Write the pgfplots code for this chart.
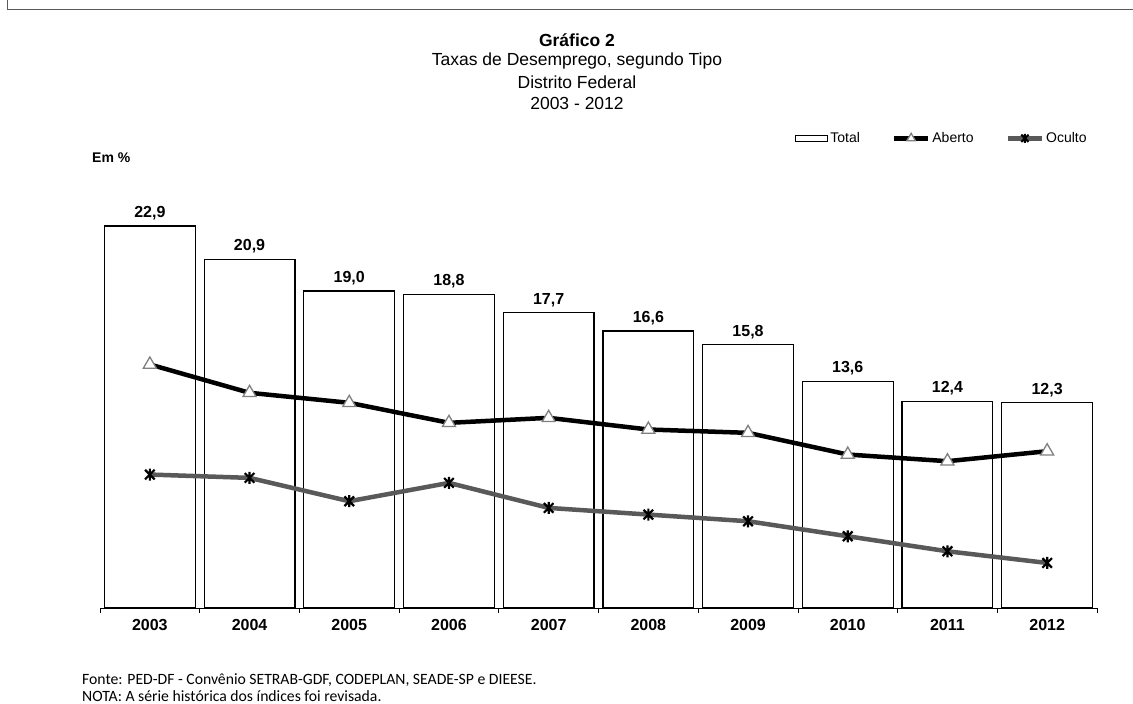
\documentclass[border=0pt]{standalone}
\usepackage{pgfplots}
\usepackage{pgfplotstable}
\pgfplotsset{compat=1.18}
\usepackage{fontspec}
\setmainfont{Liberation Sans}
\newfontfamily\calibri{Carlito}

\pgfplotstableread{
x total aberto oculto
0 22.9 14.6 8.0
1 20.9 12.9 7.8
2 19.0 12.3 6.4
3 18.8 11.1 7.5
4 17.7 11.4 6.0
5 16.6 10.7 5.6
6 15.8 10.5 5.2
7 13.6 9.2 4.3
8 12.4 8.8 3.4
9 12.3 9.4 2.7
}\dados

\definecolor{ocgray}{RGB}{89,89,89}
\definecolor{mkgray}{RGB}{128,128,128}

% Excel-style star: an X with a vertical stroke
\pgfdeclareplotmark{xstar}{%
  \pgfpathmoveto{\pgfqpoint{0pt}{\pgfplotmarksize}}%
  \pgfpathlineto{\pgfqpoint{0pt}{-\pgfplotmarksize}}%
  \pgfpathmoveto{\pgfqpoint{-.8\pgfplotmarksize}{.8\pgfplotmarksize}}%
  \pgfpathlineto{\pgfqpoint{.8\pgfplotmarksize}{-.8\pgfplotmarksize}}%
  \pgfpathmoveto{\pgfqpoint{-.8\pgfplotmarksize}{-.8\pgfplotmarksize}}%
  \pgfpathlineto{\pgfqpoint{.8\pgfplotmarksize}{.8\pgfplotmarksize}}%
  \pgfusepathqstroke}

\begin{document}
\begin{tikzpicture}[x=1pt,y=1pt]
\path[use as bounding box] (0,0) rectangle (1133,704);
\draw[gray!70!black, line width=1.5pt] (7.5,704) -- (7.5,694.5) -- (1133,694.5);

\node[font=\fontsize{17.5}{17.5}\selectfont\bfseries] at (577,664) {Gráfico 2};
\node[font=\fontsize{17.5}{17.5}\selectfont] at (577,643) {Taxas de Desemprego, segundo Tipo};
\node[font=\fontsize{17.5}{17.5}\selectfont] at (577,622) {Distrito Federal};
\node[font=\fontsize{17.5}{17.5}\selectfont] at (577,601) {2003 - 2012};

\node[font=\fontsize{14}{14}\selectfont\bfseries, anchor=west, inner sep=0] at (92,546) {Em \%};

\node[font=\calibri\fontsize{15.7}{15.7}\selectfont, anchor=west, inner sep=0] at (82,24) {Fonte: PED-DF - Convênio SETRAB-GDF, CODEPLAN, SEADE-SP e DIEESE.};
\node[font=\calibri\fontsize{15.7}{15.7}\selectfont, anchor=west, inner sep=0] at (82,8) {NOTA: A série histórica dos índices foi revisada.};

\begin{axis}[
  at={(149.85pt,96pt)}, anchor=origin,
  scale only axis, width=997pt, height=433.7pt,
  xmin=-0.5, xmax=9.5, ymin=0, ymax=26,
  axis y line=none, axis x line=bottom,
  axis line style={-, draw=black, line width=0.8pt},
  xtick={0,...,9},
  xticklabels={2003,2004,2005,2006,2007,2008,2009,2010,2011,2012},
  major tick length=0pt,
  minor xtick={-0.5,0.5,...,9.5},
  minor tick length=5pt,
  tick align=outside,
  minor tick style={draw=black, line width=0.8pt},
  x tick label style={font=\fontsize{16}{16}\selectfont\bfseries, yshift=-8pt},
  /pgf/number format/assume math mode=true,
  legend columns=3,
  legend style={at={(0.697,1.083)}, anchor=west, draw=none, fill=none,
    inner sep=0pt, font=\fontsize{14}{14}\selectfont,
    /tikz/every even column/.append style={column sep=30pt}},
  legend cell align=left,
  clip=false,
]
\addplot[ybar, bar width=0.91, draw=black, fill=white, line width=1.2pt,
  nodes near coords={\pgfmathprintnumber[fixed,fixed zerofill,precision=1,use comma]{\pgfplotspointmeta}},
  every node near coord/.append style={font=\fontsize{16}{16}\selectfont\bfseries, yshift=2pt},
  legend image code/.code={\draw[line width=1.2pt] (0,-3pt) rectangle (32pt,3pt);}]
  table[x=x, y=total] {\dados};
\addlegendentry{Total}
\addplot[black, line width=4.5pt, mark=triangle*, mark size=7.5pt,
  mark options={solid, fill=white, draw=mkgray, line width=1.3pt},
  legend image code/.code={\draw[black, line width=4.5pt] (0,0) -- (34pt,0);
    \draw[mark size=5pt, mark options={solid, fill=white, draw=mkgray, line width=1.3pt}] plot[mark=triangle*] coordinates {(17pt,0)};}]
  table[x=x, y=aberto] {\dados};
\addlegendentry{Aberto}
\addplot[ocgray, line width=4.5pt, mark=xstar, mark size=6pt,
  mark options={solid, draw=black, line width=2.2pt},
  legend image code/.code={\draw[ocgray, line width=4.5pt] (0,0) -- (34pt,0);
    \draw[mark size=4.5pt, mark options={solid, draw=black, line width=2pt}] plot[mark=xstar] coordinates {(17pt,0)};}]
  table[x=x, y=oculto] {\dados};
\addlegendentry{Oculto}
\end{axis}
\end{tikzpicture}
\end{document}
